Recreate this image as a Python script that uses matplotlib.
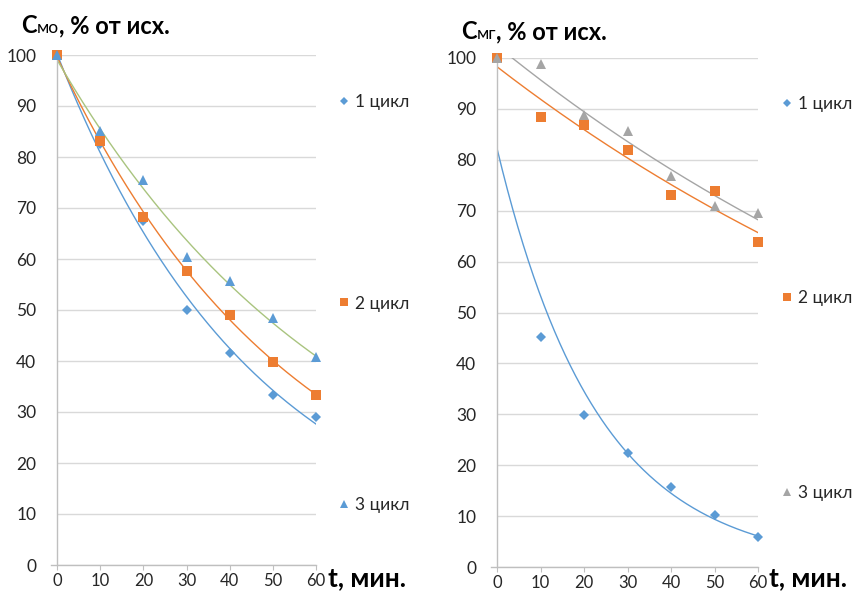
import numpy as np
import matplotlib
matplotlib.use("Agg")
import matplotlib.pyplot as plt
from matplotlib.offsetbox import TextArea, HPacker, AnchoredOffsetbox

plt.rcParams['font.family'] = ['Lato', 'Open Sans', 'DejaVu Sans']

# ---------------- data ----------------
t = [0, 10, 20, 30, 40, 50, 60]
x_ticks = [0, 10, 20, 30, 40, 50, 60]
y_ticks = [0, 10, 20, 30, 40, 50, 60, 70, 80, 90, 100]

labels = ["1 цикл", "2 цикл", "3 цикл"]

# Left panel: C_мо
mo_cycle1 = [100, 82.5, 67.5, 50.0, 41.6, 33.3, 29.0]
mo_cycle2 = [100, 83.1, 68.3, 57.7, 49.0, 39.9, 33.3]
mo_cycle3 = [100, 85.1, 75.4, 60.4, 55.6, 48.4, 40.8]

# Right panel: C_мг
mg_cycle1 = [100, 45.1, 29.8, 22.4, 15.7, 10.2, 5.8]
mg_cycle2 = [100, 88.4, 86.8, 81.9, 73.0, 73.9, 63.8]
mg_cycle3 = [100, 98.8, 88.8, 85.7, 76.8, 70.9, 69.6]

BLUE = "#5B9BD5"
ORANGE = "#ED7D31"
GRAY = "#A5A5A5"
GREEN = "#A9C47F"
GRID = "#D9D9D9"
AXIS = "#BFBFBF"
TXT = "#262626"

W, H = 868, 591
fig = plt.figure(figsize=(W / 100, H / 100), dpi=100)


def fx(px):
    return px / W


def fy(py):
    return 1 - py / H


def exp_trend(x, y):
    x = np.asarray(x, float)
    y = np.asarray(y, float)
    b, a = np.polyfit(x, np.log(y), 1)
    xs = np.linspace(0, 60, 300)
    return xs, np.exp(a + b * xs)


def setup_axes(ax, x0, x1, y_top, y_bot):
    ax.set_position([fx(x0), fy(y_bot), fx(x1 - x0), (y_bot - y_top) / H])
    ax.set_xlim(0, 60)
    ax.set_ylim(0, 100)
    ax.set_xticks(x_ticks)
    ax.set_yticks(y_ticks)
    ax.set_xticklabels([str(v) for v in x_ticks])
    ax.set_yticklabels([str(v) for v in y_ticks])
    for s in ["top", "right"]:
        ax.spines[s].set_visible(False)
    for s in ["left", "bottom"]:
        ax.spines[s].set_color(AXIS)
        ax.spines[s].set_linewidth(1.0)
    ax.spines["bottom"].set_bounds(-60 * 6 / (x1 - x0), 60)
    ax.grid(axis="y", color=GRID, linewidth=1.0)
    ax.set_axisbelow(True)
    ax.tick_params(axis="x", direction="out", length=3.8, color=AXIS,
                   labelsize=12, labelcolor=TXT, pad=2)
    ax.tick_params(axis="y", length=0, labelsize=12.5, labelcolor=TXT, pad=15)


def draw_series(ax, y, color, line_color, marker, ms, label):
    xs, ys = exp_trend(t, y)
    ax.plot(xs, ys, color=line_color, linewidth=1.0, zorder=2)
    ax.plot(t, y, linestyle="none", marker=marker, markersize=ms,
            color=color, markeredgewidth=0, label=label, clip_on=False,
            zorder=3)


# ---------------- left panel ----------------
axL = fig.add_axes([0, 0, 1, 1])
setup_axes(axL, 57, 316, 55, 565)
draw_series(axL, mo_cycle1, BLUE, BLUE, "D", 5.0, labels[0])
draw_series(axL, mo_cycle2, ORANGE, ORANGE, "s", 7.8, labels[1])
draw_series(axL, mo_cycle3, BLUE, GREEN, "^", 7.2, labels[2])

# ---------------- right panel ----------------
axR = fig.add_axes([0, 0, 1, 1])
setup_axes(axR, 497, 758, 58, 567)
draw_series(axR, mg_cycle1, BLUE, BLUE, "D", 5.0, labels[0])
draw_series(axR, mg_cycle2, ORANGE, ORANGE, "s", 7.8, labels[1])
draw_series(axR, mg_cycle3, GRAY, GRAY, "^", 7.2, labels[2])


# ---------------- legends ----------------
def legend(ax, xpx, ycenter_px, spacing):
    h, l = ax.get_legend_handles_labels()
    leg = ax.legend(h, l, loc="center left",
                    bbox_to_anchor=(fx(xpx), fy(ycenter_px)),
                    bbox_transform=fig.transFigure, frameon=False,
                    fontsize=12.5, handlelength=0.55, handletextpad=0.35,
                    borderpad=0, borderaxespad=0, labelspacing=spacing,
                    markerscale=0.75)
    for txt in leg.get_texts():
        txt.set_color(TXT)
    return leg


legend(axL, 339, 303.5, 10.7)
legend(axR, 782, 298.5, 10.3)


# ---------------- titles ----------------
def title(xpx, ypx, sub):
    parts = [
        TextArea("C", textprops=dict(fontsize=17, fontweight="bold", color="black")),
        TextArea(sub, textprops=dict(fontsize=12.5, color="black")),
        TextArea(", % от исх.", textprops=dict(fontsize=17, fontweight="bold", color="black")),
    ]
    pack = HPacker(children=parts, align="baseline", pad=0, sep=0)
    box = AnchoredOffsetbox(loc="lower left", child=pack, pad=0, borderpad=0,
                            frameon=False,
                            bbox_to_anchor=(fx(xpx), fy(ypx)),
                            bbox_transform=fig.transFigure)
    fig.add_artist(box)


title(21, 37, "мо")
title(461, 43, "мг")

fig.text(fx(328), fy(578), "t, мин.", fontsize=19, fontweight="bold",
         color="black", ha="left", va="center")
fig.text(fx(769), fy(578), "t, мин.", fontsize=19, fontweight="bold",
         color="black", ha="left", va="center")

fig.savefig("out.png", dpi=100)
